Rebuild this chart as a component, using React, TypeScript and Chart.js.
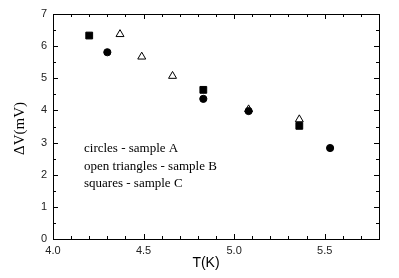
import React, { useEffect, useRef } from "react";
import { Chart, registerables } from "chart.js";

Chart.register(...registerables);

const circlesA_T = [4.3, 4.83, 5.08, 5.53];
const circlesA_V = [5.81, 4.36, 3.98, 2.83];
const trianglesB_T = [4.37, 4.49, 4.66, 5.08, 5.36];
const trianglesB_V = [6.37, 5.67, 5.07, 4.03, 3.72];
const squaresC_T = [4.2, 4.83, 5.36];
const squaresC_V = [6.33, 4.64, 3.52];
const notes = ["circles - sample A", "open triangles - sample B", "squares - sample C"];
const xTitle = "T(K)";
const yTitle = "ΔV(mV)";

const toPts = (xs: number[], ys: number[]) => xs.map((x, i) => ({ x, y: ys[i] }));

const framePlugin = {
  id: "frame",
  afterDraw(chart: any) {
    const { ctx, chartArea: a, scales } = chart;
    const xs = scales.x, ys = scales.y;
    ctx.save();
    ctx.strokeStyle = "#000";
    ctx.lineWidth = 1;
    ctx.strokeRect(Math.round(a.left) + 0.5, Math.round(a.top) + 0.5, Math.round(a.right - a.left), Math.round(a.bottom - a.top));
    ctx.beginPath();
    for (let i = 0; i <= 18; i++) {
      const v = 4.0 + i * 0.1;
      const px = Math.round(xs.getPixelForValue(v)) + 0.5;
      const len = i % 5 === 0 ? 5 : 3;
      ctx.moveTo(px, a.bottom); ctx.lineTo(px, a.bottom - len);
      ctx.moveTo(px, a.top); ctx.lineTo(px, a.top + len);
    }
    for (let i = 0; i <= 14; i++) {
      const v = i * 0.5;
      const py = Math.round(ys.getPixelForValue(v)) + 0.5;
      const len = i % 2 === 0 ? 5 : 3;
      ctx.moveTo(a.left, py); ctx.lineTo(a.left + len, py);
      ctx.moveTo(a.right, py); ctx.lineTo(a.right - len, py);
    }
    ctx.stroke();

    ctx.fillStyle = "#000";
    ctx.font = "13px 'Liberation Serif', 'DejaVu Serif', serif";
    ctx.textAlign = "left";
    ctx.textBaseline = "middle";
    const ny = [149, 166.5, 184];
    notes.forEach((t, i) => ctx.fillText(t, 84, ny[i]));

    ctx.font = "14px 'Liberation Sans', Arial, sans-serif";
    ctx.textAlign = "center";
    ctx.fillText(xTitle, 206, 263);

    ctx.translate(20, 128.5);
    ctx.rotate(-Math.PI / 2);
    ctx.font = "15px 'Liberation Serif', 'DejaVu Serif', serif";
    ctx.fillText(yTitle, 0, 0);
    ctx.restore();
  },
};

export default function App() {
  const ref = useRef<HTMLCanvasElement>(null);
  useEffect(() => {
    if (!ref.current) return;
    const tickFont = { family: "'Liberation Sans', Arial, sans-serif", size: 11 };
    const chart = new Chart(ref.current, {
      type: "scatter",
      data: {
        datasets: [
          {
            label: "A",
            data: toPts(circlesA_T, circlesA_V),
            pointStyle: "circle",
            pointRadius: 3.6,
            backgroundColor: "#000",
            borderColor: "#000",
            borderWidth: 1,
          },
          {
            label: "B",
            data: toPts(trianglesB_T, trianglesB_V),
            pointStyle: "triangle",
            pointRadius: 4.6,
            backgroundColor: "rgba(255,255,255,0)",
            borderColor: "#000",
            borderWidth: 1,
          },
          {
            label: "C",
            data: toPts(squaresC_T, squaresC_V),
            pointStyle: "rect",
            pointRadius: 4.8,
            backgroundColor: "#000",
            borderColor: "#000",
            borderWidth: 1,
          },
        ],
      },
      options: {
        responsive: false,
        animation: false,
        events: [],
        layout: { padding: { top: 14, right: 20, left: 0, bottom: 0 } },
        plugins: { legend: { display: false }, tooltip: { enabled: false } },
        scales: {
          x: {
            type: "linear",
            min: 4.0,
            max: 5.8,
            grid: { display: false, drawTicks: false },
            border: { display: false },
            ticks: {
              stepSize: 0.5,
              color: "#222",
              font: tickFont,
              padding: 5,
              maxRotation: 0,
              callback: (v: any) => Number(v).toFixed(1),
            },
            afterBuildTicks: (s: any) => {
              s.ticks = s.ticks.filter((t: any) => Math.abs(t.value * 2 - Math.round(t.value * 2)) < 1e-6);
            },
            afterFit: (s: any) => { s.height = 39; },
          },
          y: {
            type: "linear",
            min: 0,
            max: 7,
            grid: { display: false, drawTicks: false },
            border: { display: false },
            ticks: { stepSize: 1, color: "#222", font: tickFont, padding: 6 },
            afterFit: (s: any) => { s.width = 53; },
          },
        },
      },
      plugins: [framePlugin],
    });
    return () => chart.destroy();
  }, []);
  return (
    <div style={{ position: "fixed", left: 0, top: 0, width: 399, height: 278, background: "#fff" }}>
      <canvas ref={ref} width={399} height={278} style={{ display: "block" }} />
    </div>
  );
}
